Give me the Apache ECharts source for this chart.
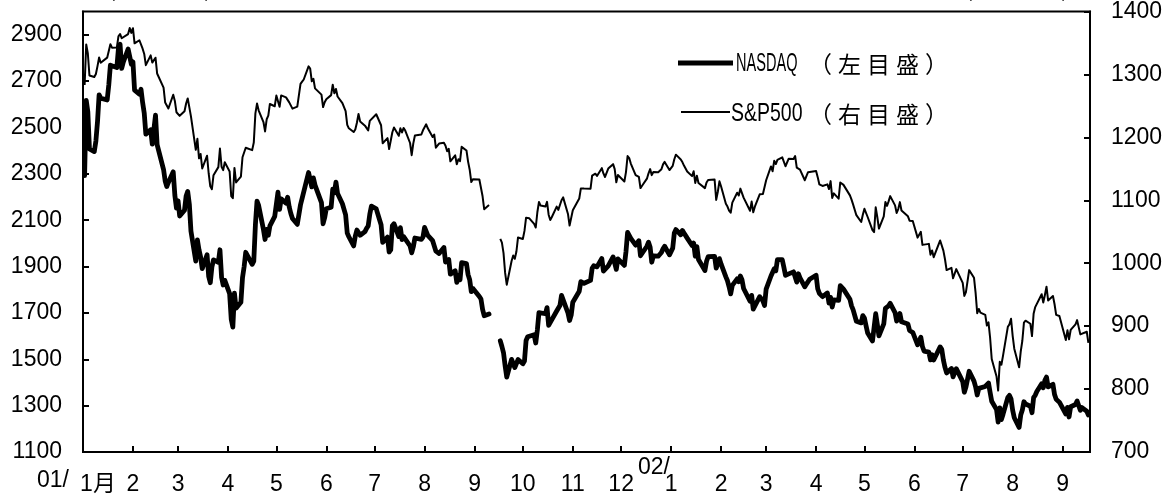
<!DOCTYPE html>
<html><head><meta charset="utf-8">
<script src="https://cdn.jsdelivr.net/npm/echarts@6/dist/echarts.min.js"></script>
<style>html,body{margin:0;padding:0;background:#fff}#c{width:1171px;height:498px}</style>
</head><body><div id="c"></div>
<script>
// Trading days (Sep 11-14, 2001: market closed -> null)
const dates = [
'2001-01-02','2001-01-03','2001-01-04','2001-01-05','2001-01-08','2001-01-09','2001-01-10','2001-01-11','2001-01-12','2001-01-16','2001-01-17','2001-01-18','2001-01-19','2001-01-22','2001-01-23','2001-01-24','2001-01-25','2001-01-26','2001-01-29','2001-01-30','2001-01-31',
'2001-02-01','2001-02-02','2001-02-05','2001-02-06','2001-02-07','2001-02-08','2001-02-09','2001-02-12','2001-02-13','2001-02-14','2001-02-15','2001-02-16','2001-02-20','2001-02-21','2001-02-22','2001-02-23','2001-02-26','2001-02-27','2001-02-28',
'2001-03-01','2001-03-02','2001-03-05','2001-03-06','2001-03-07','2001-03-08','2001-03-09','2001-03-12','2001-03-13','2001-03-14','2001-03-15','2001-03-16','2001-03-19','2001-03-20','2001-03-21','2001-03-22','2001-03-23','2001-03-26','2001-03-27','2001-03-28','2001-03-29','2001-03-30',
'2001-04-02','2001-04-03','2001-04-04','2001-04-05','2001-04-06','2001-04-09','2001-04-10','2001-04-11','2001-04-12','2001-04-16','2001-04-17','2001-04-18','2001-04-19','2001-04-20','2001-04-23','2001-04-24','2001-04-25','2001-04-26','2001-04-27','2001-04-30',
'2001-05-01','2001-05-02','2001-05-03','2001-05-04','2001-05-07','2001-05-08','2001-05-09','2001-05-10','2001-05-11','2001-05-14','2001-05-15','2001-05-16','2001-05-17','2001-05-18','2001-05-21','2001-05-22','2001-05-23','2001-05-24','2001-05-25','2001-05-29','2001-05-30','2001-05-31',
'2001-06-01','2001-06-04','2001-06-05','2001-06-06','2001-06-07','2001-06-08','2001-06-11','2001-06-12','2001-06-13','2001-06-14','2001-06-15','2001-06-18','2001-06-19','2001-06-20','2001-06-21','2001-06-22','2001-06-25','2001-06-26','2001-06-27','2001-06-28','2001-06-29',
'2001-07-02','2001-07-03','2001-07-05','2001-07-06','2001-07-09','2001-07-10','2001-07-11','2001-07-12','2001-07-13','2001-07-16','2001-07-17','2001-07-18','2001-07-19','2001-07-20','2001-07-23','2001-07-24','2001-07-25','2001-07-26','2001-07-27','2001-07-30','2001-07-31',
'2001-08-01','2001-08-02','2001-08-03','2001-08-06','2001-08-07','2001-08-08','2001-08-09','2001-08-10','2001-08-13','2001-08-14','2001-08-15','2001-08-16','2001-08-17','2001-08-20','2001-08-21','2001-08-22','2001-08-23','2001-08-24','2001-08-27','2001-08-28','2001-08-29','2001-08-30','2001-08-31',
'2001-09-04','2001-09-05','2001-09-06','2001-09-07','2001-09-10','2001-09-11','2001-09-12','2001-09-13','2001-09-14','2001-09-17','2001-09-18','2001-09-19','2001-09-20','2001-09-21','2001-09-24','2001-09-25','2001-09-26','2001-09-27','2001-09-28',
'2001-10-01','2001-10-02','2001-10-03','2001-10-04','2001-10-05','2001-10-08','2001-10-09','2001-10-10','2001-10-11','2001-10-12','2001-10-15','2001-10-16','2001-10-17','2001-10-18','2001-10-19','2001-10-22','2001-10-23','2001-10-24','2001-10-25','2001-10-26','2001-10-29','2001-10-30','2001-10-31',
'2001-11-01','2001-11-02','2001-11-05','2001-11-06','2001-11-07','2001-11-08','2001-11-09','2001-11-12','2001-11-13','2001-11-14','2001-11-15','2001-11-16','2001-11-19','2001-11-20','2001-11-21','2001-11-23','2001-11-26','2001-11-27','2001-11-28','2001-11-29','2001-11-30',
'2001-12-03','2001-12-04','2001-12-05','2001-12-06','2001-12-07','2001-12-10','2001-12-11','2001-12-12','2001-12-13','2001-12-14','2001-12-17','2001-12-18','2001-12-19','2001-12-20','2001-12-21','2001-12-24','2001-12-26','2001-12-27','2001-12-28','2001-12-31',
'2002-01-02','2002-01-03','2002-01-04','2002-01-07','2002-01-08','2002-01-09','2002-01-10','2002-01-11','2002-01-14','2002-01-15','2002-01-16','2002-01-17','2002-01-18','2002-01-22','2002-01-23','2002-01-24','2002-01-25','2002-01-28','2002-01-29','2002-01-30','2002-01-31',
'2002-02-01','2002-02-04','2002-02-05','2002-02-06','2002-02-07','2002-02-08','2002-02-11','2002-02-12','2002-02-13','2002-02-14','2002-02-15','2002-02-19','2002-02-20','2002-02-21','2002-02-22','2002-02-25','2002-02-26','2002-02-27','2002-02-28',
'2002-03-01','2002-03-04','2002-03-05','2002-03-06','2002-03-07','2002-03-08','2002-03-11','2002-03-12','2002-03-13','2002-03-14','2002-03-15','2002-03-18','2002-03-19','2002-03-20','2002-03-21','2002-03-22','2002-03-25','2002-03-26','2002-03-27','2002-03-28',
'2002-04-01','2002-04-02','2002-04-03','2002-04-04','2002-04-05','2002-04-08','2002-04-09','2002-04-10','2002-04-11','2002-04-12','2002-04-15','2002-04-16','2002-04-17','2002-04-18','2002-04-19','2002-04-22','2002-04-23','2002-04-24','2002-04-25','2002-04-26','2002-04-29','2002-04-30',
'2002-05-01','2002-05-02','2002-05-03','2002-05-06','2002-05-07','2002-05-08','2002-05-09','2002-05-10','2002-05-13','2002-05-14','2002-05-15','2002-05-16','2002-05-17','2002-05-20','2002-05-21','2002-05-22','2002-05-23','2002-05-24','2002-05-28','2002-05-29','2002-05-30','2002-05-31',
'2002-06-03','2002-06-04','2002-06-05','2002-06-06','2002-06-07','2002-06-10','2002-06-11','2002-06-12','2002-06-13','2002-06-14','2002-06-17','2002-06-18','2002-06-19','2002-06-20','2002-06-21','2002-06-24','2002-06-25','2002-06-26','2002-06-27','2002-06-28',
'2002-07-01','2002-07-02','2002-07-03','2002-07-05','2002-07-08','2002-07-09','2002-07-10','2002-07-11','2002-07-12','2002-07-15','2002-07-16','2002-07-17','2002-07-18','2002-07-19','2002-07-22','2002-07-23','2002-07-24','2002-07-25','2002-07-26','2002-07-29','2002-07-30','2002-07-31',
'2002-08-01','2002-08-02','2002-08-05','2002-08-06','2002-08-07','2002-08-08','2002-08-09','2002-08-12','2002-08-13','2002-08-14','2002-08-15','2002-08-16','2002-08-19','2002-08-20','2002-08-21','2002-08-22','2002-08-23','2002-08-26','2002-08-27','2002-08-28','2002-08-29','2002-08-30',
'2002-09-03','2002-09-04','2002-09-05','2002-09-06','2002-09-09','2002-09-10','2002-09-11','2002-09-12','2002-09-13','2002-09-16','2002-09-17'
];

const nasdaq = [
2291.86,2616.69,2566.83,2407.65,2395.92,2441.30,2524.18,2640.57,2626.50,2618.55,2682.78,2768.49,2770.38,2757.91,2840.39,2859.15,2754.28,2781.30,2838.34,2838.35,2772.73,
2782.79,2660.50,2643.21,2664.49,2607.82,2562.06,2470.97,2489.66,2427.72,2491.40,2552.91,2425.38,2318.35,2268.94,2244.96,2262.51,2308.50,2207.82,2151.83,
2183.37,2117.63,2142.92,2204.43,2223.92,2168.73,2052.78,1923.38,2014.78,1972.09,1940.71,1890.91,1951.18,1857.44,1830.23,1897.70,1928.68,1918.49,1972.26,1854.13,1820.57,1840.26,
1782.97,1673.00,1638.80,1785.00,1720.36,1745.71,1852.03,1898.95,1961.43,1909.57,1923.22,2079.44,2182.14,2163.41,2059.32,2016.61,2059.80,2034.88,2075.68,2116.24,
2168.24,2220.60,2146.20,2191.53,2173.57,2198.77,2156.63,2128.86,2107.43,2081.92,2085.58,2166.44,2193.68,2198.88,2305.59,2313.85,2243.48,2282.02,2251.03,2175.54,2084.50,2110.49,
2149.44,2155.93,2233.66,2217.73,2264.00,2215.10,2170.78,2169.95,2122.76,2044.07,2028.43,1988.63,2031.29,2057.32,2058.76,2034.84,2050.87,2064.62,2074.74,2125.46,2160.54,
2148.72,2140.80,2080.11,2004.16,2026.71,1962.79,1972.04,2075.74,2084.79,2029.12,2067.32,2016.17,2029.37,2029.12,1988.56,1959.24,1984.32,2022.97,2029.07,2017.13,2027.13,
2068.38,2066.33,2033.86,2011.38,2018.46,1966.36,1963.32,1956.47,1982.25,1919.50,1918.89,1930.32,1867.01,1881.35,1831.30,1860.01,1842.97,1916.80,1912.41,1864.98,1843.17,1791.68,1805.43,
1770.76,1759.94,1715.24,1687.70,1695.38,null,null,null,null,1579.55,1555.08,1527.80,1470.93,1423.19,1499.40,1501.64,1464.04,1460.71,1498.80,
1480.46,1492.33,1580.81,1597.31,1605.30,1605.95,1570.19,1626.26,1701.47,1703.40,1696.31,1722.95,1646.34,1652.72,1671.30,1708.08,1704.44,1731.54,1775.47,1768.96,1699.52,1667.41,1690.20,
1746.30,1745.73,1793.65,1835.08,1837.53,1827.77,1828.48,1840.13,1892.10,1903.19,1900.57,1898.58,1934.42,1880.51,1875.05,1903.20,1941.23,1935.97,1887.97,1933.26,1930.58,
1904.90,1963.87,2046.84,2054.27,2021.26,1992.12,2001.93,2011.38,1946.51,1953.17,1987.45,2004.76,1982.89,1918.54,1945.83,1944.48,1960.70,1976.42,1987.26,1950.40,
1979.25,2044.27,2059.38,2037.10,2055.74,2044.89,2047.24,2022.46,1990.74,2000.91,1944.44,1985.82,1930.34,1882.53,1922.38,1942.48,1937.70,1943.91,1892.99,1913.44,1934.03,
1911.24,1855.53,1838.52,1812.71,1782.11,1818.88,1846.66,1834.21,1859.16,1843.37,1805.20,1750.61,1775.57,1716.24,1724.54,1769.88,1766.86,1751.88,1731.49,
1802.74,1859.32,1866.29,1890.40,1881.63,1929.67,1929.49,1897.12,1862.03,1854.14,1868.30,1877.06,1880.87,1832.87,1868.83,1851.39,1812.49,1824.17,1826.75,1845.35,
1862.62,1804.40,1784.35,1789.75,1770.03,1785.87,1742.57,1767.07,1725.24,1756.19,1753.78,1817.16,1810.67,1802.43,1796.83,1758.68,1730.29,1713.35,1713.53,1663.89,1656.93,1688.23,
1677.53,1644.82,1613.03,1578.48,1573.82,1696.29,1650.49,1600.85,1652.54,1719.05,1725.18,1730.44,1741.39,1701.49,1664.28,1673.47,1697.63,1661.49,1652.17,1624.39,1631.92,1615.73,
1562.56,1578.12,1595.26,1554.88,1535.48,1530.69,1497.18,1519.12,1496.83,1504.74,1553.29,1542.96,1496.86,1464.91,1440.96,1460.34,1423.99,1429.33,1459.52,1463.21,
1403.80,1357.82,1380.17,1448.36,1405.61,1381.12,1346.01,1374.43,1373.50,1382.62,1375.26,1397.56,1356.95,1319.15,1282.65,1229.05,1290.23,1240.08,1262.12,1335.25,1344.19,1328.26,
1280.00,1247.92,1206.01,1259.26,1280.85,1316.80,1306.84,1297.53,1269.36,1334.30,1345.02,1361.01,1394.54,1376.59,1409.25,1422.95,1380.62,1391.74,1347.78,1327.21,1335.77,1314.85,
1263.84,1292.31,1251.00,1295.30,1304.60,1320.09,1315.45,1279.68,1291.40,1275.88,1259.94
];

const sp500 = [
1283.27,1347.56,1333.34,1298.35,1295.86,1300.80,1313.27,1326.82,1318.55,1326.65,1329.47,1347.97,1342.54,1342.90,1360.40,1364.30,1357.51,1354.95,1364.17,1373.73,1366.01,
1373.47,1349.47,1354.31,1352.26,1340.89,1332.53,1314.76,1330.31,1318.80,1315.92,1326.61,1301.53,1278.94,1255.27,1252.82,1245.86,1267.65,1257.94,1239.94,
1241.23,1234.18,1241.41,1253.80,1261.89,1264.74,1233.42,1180.16,1197.66,1166.71,1173.56,1150.53,1170.81,1142.62,1122.14,1117.58,1139.83,1152.69,1182.17,1153.29,1147.95,1160.33,
1145.87,1106.46,1103.25,1151.44,1128.43,1137.59,1168.38,1165.89,1183.50,1179.68,1191.81,1238.16,1253.69,1242.98,1224.36,1209.47,1228.75,1234.52,1253.05,1249.46,
1266.44,1267.43,1248.58,1266.61,1263.51,1261.20,1255.54,1255.18,1245.67,1248.92,1249.44,1284.99,1288.49,1291.96,1312.83,1309.38,1289.05,1293.17,1277.89,1267.93,1248.08,1255.82,
1260.67,1267.11,1283.57,1270.03,1276.96,1264.96,1254.39,1255.85,1241.60,1219.87,1214.36,1208.43,1212.58,1223.14,1237.04,1225.35,1218.60,1216.76,1211.07,1226.20,1224.38,
1236.72,1234.45,1219.24,1190.59,1198.78,1181.52,1180.18,1208.14,1215.68,1202.45,1214.44,1207.71,1215.02,1210.85,1191.03,1171.65,1190.49,1202.93,1205.82,1204.52,1211.23,
1215.93,1220.75,1214.35,1200.48,1204.40,1183.53,1183.43,1190.16,1191.29,1186.73,1178.02,1181.66,1161.97,1171.41,1157.26,1165.31,1162.09,1184.93,1179.21,1161.51,1148.56,1129.03,1133.58,
1132.94,1131.74,1106.40,1085.78,1092.54,null,null,null,null,1038.77,1032.74,1016.10,984.54,965.80,1003.45,1012.27,1007.04,1018.61,1040.94,
1038.55,1051.33,1072.28,1069.63,1071.38,1062.44,1056.75,1080.99,1097.43,1091.65,1089.98,1097.54,1077.09,1068.61,1073.48,1089.90,1084.78,1085.20,1100.09,1104.61,1078.30,1059.79,1059.78,
1084.10,1087.20,1102.84,1118.86,1115.80,1118.54,1120.31,1118.33,1139.09,1141.21,1142.24,1138.65,1151.06,1142.66,1137.03,1150.34,1157.42,1149.50,1128.52,1140.20,1139.45,
1129.90,1144.80,1170.35,1167.10,1158.31,1139.93,1136.76,1137.07,1119.38,1123.09,1134.36,1142.92,1149.56,1139.93,1144.89,1144.65,1149.37,1157.13,1161.02,1148.08,
1154.67,1165.27,1172.51,1164.89,1160.71,1155.14,1156.55,1145.60,1138.41,1146.19,1127.57,1138.88,1127.58,1119.31,1128.18,1132.15,1133.28,1133.06,1100.64,1113.57,1130.20,
1122.20,1094.44,1090.02,1083.51,1080.17,1096.22,1111.94,1107.50,1118.51,1116.48,1104.18,1083.34,1097.98,1080.95,1089.84,1109.43,1109.38,1109.89,1106.73,
1131.78,1153.84,1146.14,1162.77,1157.54,1164.31,1168.26,1165.58,1154.09,1153.04,1166.16,1165.55,1170.29,1151.85,1153.59,1148.70,1131.87,1138.49,1144.58,1147.39,
1146.54,1136.76,1125.40,1126.34,1122.73,1125.29,1117.80,1130.47,1103.69,1111.01,1102.55,1128.37,1126.07,1124.47,1125.17,1107.83,1100.96,1093.14,1091.48,1076.32,1065.45,1076.92,
1086.46,1084.56,1073.43,1052.67,1049.49,1088.85,1073.01,1054.99,1074.56,1097.28,1091.07,1098.23,1106.59,1091.88,1079.88,1086.02,1097.08,1083.82,1074.55,1067.66,1064.66,1067.14,
1040.68,1040.69,1049.90,1029.15,1027.53,1030.74,1013.60,1020.26,1009.56,1007.27,1036.17,1037.14,1019.99,1006.29,989.14,992.72,976.14,973.53,990.64,989.82,
968.65,948.09,953.99,989.03,976.98,952.83,920.47,927.37,921.39,917.93,900.94,906.04,881.56,847.75,819.85,797.70,843.43,838.68,852.84,898.96,902.78,911.62,
884.66,864.24,834.60,859.57,876.77,905.46,908.64,903.80,884.21,919.62,930.25,928.77,950.70,937.43,949.36,962.70,940.86,947.95,934.82,917.87,917.80,916.07,
878.02,893.40,879.15,893.92,902.96,909.58,909.45,886.91,889.81,891.10,873.52
];

const seriesNames = ['NASDAQ', 'S&P500'];
const scaleNotes = ['（左目盛）', '（右目盛）'];
const unitLabel = '（ポイント）';
const yearPrefixes = ['01/', '02/'];

const LAT = '"Liberation Sans", Arial, sans-serif';
const CJK = '"Noto Sans CJK JP", sans-serif';

function pairs(vals) {
  return dates.map((d, i) => [d, vals[i] == null ? '-' : vals[i]]);
}
function spaced(str) {
  return str.split('').map(c => '{c|' + c + '}').join('');
}
function plain(v) { return String(v); }

const chart = echarts.init(document.getElementById('c'), null, {renderer: 'canvas'});
const axisCommon = {
  axisLine: {show: true, lineStyle: {color: '#000', width: 2}},
  axisTick: {show: true, inside: true, length: 6, lineStyle: {color: '#000', width: 2}},
  splitLine: {show: false}
};
chart.setOption({
  animation: false,
  backgroundColor: '#fff',
  grid: {left: 83, right: 81, top: 9, bottom: 46, show: true, borderColor: '#000', borderWidth: 2, containLabel: false},
  xAxis: Object.assign({
    type: 'time',
    min: '2001-01-01',
    max: '2002-09-18',
    splitNumber: 20,
    minInterval: 28 * 86400000,
    maxInterval: 31 * 86400000,
    axisLabel: {
      color: '#000', fontSize: 23, fontFamily: LAT, margin: 21,
      showMinLabel: true, showMaxLabel: false,
      formatter: function (v) {
        const d = new Date(v);
        const m = d.getMonth() + 1;
        if (d.getFullYear() === 2001 && m === 1) return '{j|1月}';
        return String(m);
      },
      rich: {j: {fontSize: 23, fontFamily: '"Liberation Sans", "Noto Sans CJK JP", sans-serif', color: '#000', padding: [0, 0, 0, 30]}}
    }
  }, axisCommon),
  yAxis: [
    Object.assign({
      type: 'value', position: 'left', min: 1100, max: 3000, interval: 200,
      axisLabel: {color: '#000', fontSize: 23, fontFamily: LAT, margin: 21, showMaxLabel: false, formatter: plain}
    }, axisCommon),
    Object.assign({
      type: 'value', position: 'right', min: 700, max: 1400, interval: 100,
      axisLabel: {color: '#000', fontSize: 23, fontFamily: LAT, margin: 21, formatter: plain}
    }, axisCommon)
  ],
  series: [
    {name: seriesNames[0] + scaleNotes[0], type: 'line', yAxisIndex: 0, data: pairs(nasdaq), showSymbol: false, symbol: 'none', connectNulls: false,
     lineStyle: {color: '#000', width: 4.8, join: 'round', cap: 'round'}, itemStyle: {color: '#000'}},
    {name: seriesNames[1] + scaleNotes[1], type: 'line', yAxisIndex: 1, data: pairs(sp500), showSymbol: false, symbol: 'none', connectNulls: false,
     lineStyle: {color: '#000', width: 2, join: 'round'}, itemStyle: {color: '#000'}}
  ],
  graphic: [
    // legend
    {type: 'line', shape: {x1: 678, y1: 63, x2: 733, y2: 63}, style: {stroke: '#000', lineWidth: 5}},
    {type: 'text', x: 736, y: 64, scaleX: 0.56, style: {text: seriesNames[0], font: '26px ' + LAT, fill: '#000', align: 'left', verticalAlign: 'middle', textAlign: 'left', textVerticalAlign: 'middle'}},
    {type: 'text', x: 806, y: 64, style: {text: spaced(scaleNotes[0]), fill: '#000', align: 'left', verticalAlign: 'middle', textAlign: 'left', textVerticalAlign: 'middle',
      rich: {c: {fontSize: 23, fontFamily: CJK, fill: '#000', padding: [0, 3, 0, 3]}}}},
    {type: 'line', shape: {x1: 681, y1: 112, x2: 730, y2: 112}, style: {stroke: '#000', lineWidth: 2}},
    {type: 'text', x: 731, y: 114, scaleX: 0.75, style: {text: seriesNames[1], font: '26px ' + LAT, fill: '#000', align: 'left', verticalAlign: 'middle', textAlign: 'left', textVerticalAlign: 'middle'}},
    {type: 'text', x: 806, y: 114, style: {text: spaced(scaleNotes[1]), fill: '#000', align: 'left', verticalAlign: 'middle', textAlign: 'left', textVerticalAlign: 'middle',
      rich: {c: {fontSize: 23, fontFamily: CJK, fill: '#000', padding: [0, 3, 0, 3]}}}},
    // units (cut off at top)
    {type: 'text', x: 94, y: 1, style: {text: unitLabel, font: '22px ' + CJK, fill: '#000', align: 'left', verticalAlign: 'bottom', textAlign: 'left', textVerticalAlign: 'bottom'}},
    {type: 'text', x: 951, y: 1, style: {text: unitLabel, font: '22px ' + CJK, fill: '#000', align: 'left', verticalAlign: 'bottom', textAlign: 'left', textVerticalAlign: 'bottom'}},
    // year prefixes on the time axis
    {type: 'text', x: 37, y: 481, style: {text: yearPrefixes[0], font: '23px ' + LAT, fill: '#000', align: 'left', verticalAlign: 'middle', textAlign: 'left', textVerticalAlign: 'middle'}},
    {type: 'text', x: 638, y: 468, style: {text: yearPrefixes[1], font: '23px ' + LAT, fill: '#000', align: 'left', verticalAlign: 'middle', textAlign: 'left', textVerticalAlign: 'middle'}}
  ]
});
</script>
</body></html>
